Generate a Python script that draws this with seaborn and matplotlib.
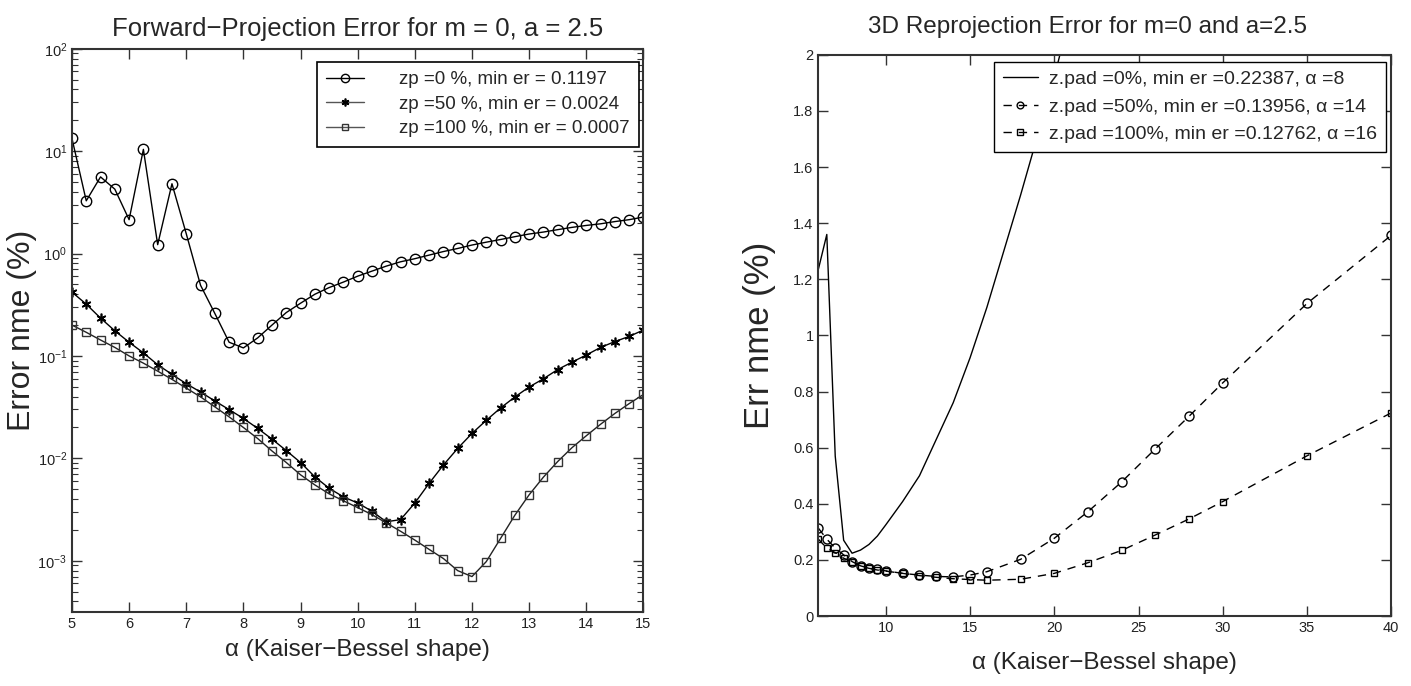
import numpy as np
import pandas as pd
import seaborn as sns
import matplotlib
matplotlib.use("Agg")
import matplotlib.pyplot as plt
from matplotlib.ticker import FormatStrFormatter, LogLocator, NullFormatter

# ---- left panel: forward projection error (log scale) ----
alpha_fp = [5.0, 5.25, 5.5, 5.75, 6.0, 6.25, 6.5, 6.75, 7.0, 7.25, 7.5, 7.75,
            8.0, 8.25, 8.5, 8.75, 9.0, 9.25, 9.5, 9.75, 10.0, 10.25, 10.5, 10.75,
            11.0, 11.25, 11.5, 11.75, 12.0, 12.25, 12.5, 12.75, 13.0, 13.25, 13.5,
            13.75, 14.0, 14.25, 14.5, 14.75, 15.0]
err_zp0 = [13.3, 3.27, 5.6, 4.25, 2.14, 10.4, 1.22, 4.8, 1.56, 0.49, 0.26, 0.136,
           0.1197, 0.15, 0.20, 0.265, 0.327, 0.40, 0.465, 0.526, 0.601, 0.673, 0.753, 0.83,
           0.89, 0.965, 1.045, 1.12, 1.21, 1.29, 1.37, 1.46, 1.55, 1.62, 1.71,
           1.80, 1.88, 1.95, 2.05, 2.14, 2.27]
err_zp50 = [0.42, 0.32, 0.234, 0.176, 0.136, 0.107, 0.082, 0.066, 0.0535, 0.0444, 0.0363, 0.0299,
            0.0245, 0.0196, 0.0154, 0.0119, 0.0091, 0.0066, 0.0051, 0.0042, 0.00366, 0.00304, 0.0024, 0.00252,
            0.00366, 0.0057, 0.0086, 0.0125, 0.0175, 0.0235, 0.031, 0.0397, 0.0497, 0.0598, 0.0736,
            0.0869, 0.102, 0.121, 0.138, 0.155, 0.179]
err_zp100 = [0.20, 0.17, 0.143, 0.121, 0.10, 0.085, 0.071, 0.059, 0.0485, 0.0398, 0.0318, 0.0254,
             0.020, 0.0156, 0.0118, 0.0091, 0.0069, 0.0055, 0.0045, 0.00385, 0.0033, 0.00282, 0.00234, 0.00194,
             0.00159, 0.00129, 0.00105, 0.00080, 0.0007, 0.00098, 0.00165, 0.00278, 0.0044, 0.00655, 0.0093,
             0.0127, 0.0166, 0.0215, 0.0274, 0.0342, 0.042]
fp_labels = ["zp =0 %, min er = 0.1197",
             "zp =50 %, min er = 0.0024",
             "zp =100 %, min er = 0.0007"]

# ---- right panel: 3D reprojection error ----
alpha_rp0 = [6, 6.5, 7, 7.5, 8, 8.5, 9, 9.5, 10, 11, 12, 13, 14, 15, 16, 18, 20, 22]
err_pad0 = [1.236, 1.36, 0.57, 0.27, 0.22387, 0.235, 0.255, 0.285, 0.325, 0.408, 0.50, 0.63,
            0.76, 0.92, 1.10, 1.50, 1.92, 2.4]
alpha_rp = [6, 6.5, 7, 7.5, 8, 8.5, 9, 9.5, 10, 11, 12, 13, 14, 15, 16, 18, 20, 22,
            24, 26, 28, 30, 35, 40]
err_pad50 = [0.313, 0.274, 0.242, 0.218, 0.194, 0.179, 0.170, 0.166, 0.161, 0.152, 0.146, 0.141,
             0.13956, 0.146, 0.158, 0.202, 0.277, 0.372, 0.478, 0.596, 0.712, 0.831, 1.114, 1.357]
err_pad100 = [0.274, 0.242, 0.226, 0.206, 0.194, 0.179, 0.170, 0.164, 0.160, 0.152, 0.144, 0.138,
              0.133, 0.130, 0.12762, 0.131, 0.152, 0.19, 0.234, 0.289, 0.346, 0.408, 0.571, 0.724]
rp_labels = ["z.pad =0%, min er =0.22387, \u03b1 =8",
             "z.pad =50%, min er =0.13956, \u03b1 =14",
             "z.pad =100%, min er =0.12762, \u03b1 =16"]

sns.set_style("ticks")
plt.rcParams["font.family"] = ["Liberation Sans", "DejaVu Sans"]
plt.rcParams["mathtext.fontset"] = "custom"
plt.rcParams["mathtext.rm"] = "Liberation Sans"

fig = plt.figure(figsize=(14.11, 6.86), dpi=100)
ax1 = fig.add_axes([0.051, 0.108, 0.405, 0.821])
ax2 = fig.add_axes([0.580, 0.102, 0.406, 0.818])

fp = pd.DataFrame({"alpha": alpha_fp, "zp0": err_zp0, "zp50": err_zp50, "zp100": err_zp100})
star = (6, 2, 0)
sns.lineplot(data=fp, x="alpha", y="zp0", ax=ax1, color="black", lw=1.0,
             marker="o", ms=7.5, mfc="none", mec="black", mew=1.0, label=fp_labels[0])
sns.lineplot(data=fp, x="alpha", y="zp50", ax=ax1, color="black", lw=1.0,
             marker=star, ms=7, mec="black", mew=1.2, label=fp_labels[1])
sns.lineplot(data=fp, x="alpha", y="zp100", ax=ax1, color="#222222", lw=1.0,
             marker="s", ms=5.5, mfc="none", mec="#333333", mew=1.0, label=fp_labels[2])
ax1.set_yscale("log")
ax1.set_xlim(5, 15)
ax1.set_ylim(10 ** -3.5, 100)
ax1.set_xticks(range(5, 16))
ax1.yaxis.set_minor_locator(LogLocator(base=10, subs=np.arange(2, 10) * 1.0, numticks=20))
ax1.yaxis.set_minor_formatter(NullFormatter())
ax1.set_title("Forward\u2212Projection Error for m = 0, a = 2.5", fontsize=18.5, pad=9)
ax1.set_xlabel("\u03b1 (Kaiser\u2212Bessel shape)", fontsize=17.5, labelpad=6)
ax1.set_ylabel("Error nme (%)", fontsize=23, labelpad=0)
leg1 = ax1.legend(loc="upper right", bbox_to_anchor=(0.993, 0.977), borderaxespad=0,
                  fontsize=13.5, frameon=True, fancybox=False,
                  edgecolor="black", framealpha=1, markerscale=0.8, handlelength=2.0,
                  labelspacing=0.4, handletextpad=1.9, borderpad=0.5)
leg1.get_frame().set_linewidth(1.2)
for h in leg1.get_lines()[1:]:
    h.set_color("#555555")

rp0 = pd.DataFrame({"alpha": alpha_rp0, "err": err_pad0})
rp = pd.DataFrame({"alpha": alpha_rp, "pad50": err_pad50, "pad100": err_pad100})
sns.lineplot(data=rp0, x="alpha", y="err", ax=ax2, color="black", lw=1.0, label=rp_labels[0])
sns.lineplot(data=rp, x="alpha", y="pad50", ax=ax2, color="black", lw=1.0,
             marker="o", ms=6.5, mfc="none", mec="black", mew=1.0, label=rp_labels[1])
sns.lineplot(data=rp, x="alpha", y="pad100", ax=ax2, color="black", lw=1.0,
             marker="s", ms=5, mfc="none", mec="black", mew=1.0, label=rp_labels[2])
for ln in ax2.get_lines()[1:]:
    ln.set_dashes([6, 5])
ax2.set_xlim(6, 40)
ax2.set_ylim(0, 2)
ax2.set_xticks([10, 15, 20, 25, 30, 35, 40])
ax2.set_yticks(np.arange(0, 2.01, 0.2))
ax2.yaxis.set_major_formatter(FormatStrFormatter("%g"))
ax2.set_title("3D Reprojection Error for m=0 and a=2.5", fontsize=17.5, pad=16, x=0.47)
ax2.set_xlabel("\u03b1 (Kaiser\u2212Bessel shape)", fontsize=17.5, labelpad=12)
ax2.set_ylabel("Err nme (%)", fontsize=25, labelpad=12)
leg2 = ax2.legend(loc="upper right", bbox_to_anchor=(0.991, 0.9875), borderaxespad=0,
                  fontsize=14, frameon=True, fancybox=False,
                  edgecolor="black", framealpha=1, markerscale=0.75, handlelength=1.8,
                  labelspacing=0.5, handletextpad=0.6, borderpad=0.45)
leg2.get_frame().set_linewidth(1.0)

for ax in (ax1, ax2):
    for sp in ax.spines.values():
        sp.set_visible(True)
        sp.set_linewidth(1.5)
        sp.set_color("#333333")
    ax.tick_params(which="both", direction="in", top=True, right=True,
                   labelsize=10.5, colors="#333333", labelcolor="#222222")
    ax.tick_params(which="major", length=7, width=1.0)
    ax.tick_params(which="minor", length=4, width=0.8)
    ax.grid(False)

fig.savefig("out.png", dpi=100)
plt.close(fig)
